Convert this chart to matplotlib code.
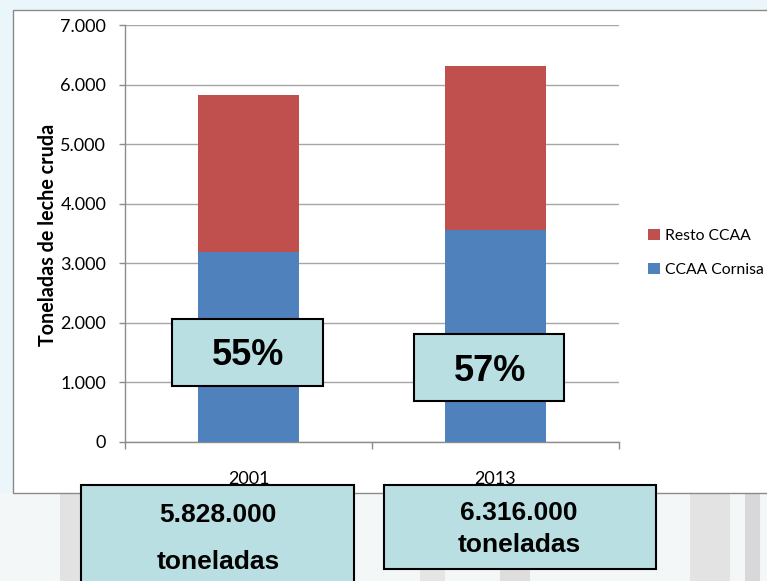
import matplotlib
matplotlib.use("Agg")
import matplotlib.pyplot as plt
from matplotlib.patches import Rectangle, Patch
from matplotlib.ticker import FixedLocator, FuncFormatter

# ---- data ----
years = ["2001", "2013"]
cornisa = [3190, 3560]          # CCAA Cornisa
totals = [5828, 6316]           # total (thousand tonnes)
resto = [t - c for t, c in zip(totals, cornisa)]  # Resto CCAA
pct_labels = ["55%", "57%"]
total_labels = ["5.828.000", "6.316.000"]
yticks = [0, 1000, 2000, 3000, 4000, 5000, 6000, 7000]

RED = "#C0504D"
BLUE = "#4F81BD"
BOXFILL = "#B9DFE3"

W, H = 767, 581
fig = plt.figure(figsize=(W / 100, H / 100), dpi=100)
fig.patch.set_facecolor("#f4f7f8")


def fx(x):
    return x / W


def fy(y):
    return 1 - y / H


# light background decorations (stripes at bottom)
for x0, w, c in [(60, 40, "#e2e2e2"), (150, 30, "#e8e8e8"), (420, 25, "#e5e5e5"),
                 (500, 30, "#dedede"), (690, 40, "#e3e3e3"), (745, 15, "#d8d8d8")]:
    fig.add_artist(Rectangle((fx(x0), 0), fx(w), fy(493), transform=fig.transFigure,
                             facecolor=c, edgecolor="none", zorder=-3))
fig.add_artist(Rectangle((0, fy(493)), 1, fy(0) - fy(493), transform=fig.transFigure,
                         facecolor="#eaf6fa", edgecolor="none", zorder=-3))

# chart area
fig.add_artist(Rectangle((fx(13), fy(493)), 1.0, fy(10) - fy(493), transform=fig.transFigure,
                         facecolor="white", edgecolor="#8a8a8a", lw=1.0, zorder=-1))

ax = fig.add_axes([fx(125), fy(441.7), fx(619) - fx(125), fy(25) - fy(441.7)])
ax.set_facecolor("none")

x = list(range(len(years)))
ax.bar(x, cornisa, width=0.41, color=BLUE, zorder=3)
ax.bar(x, resto, width=0.41, bottom=cornisa, color=RED, zorder=3)

ax.set_xlim(-0.5, 1.5)
ax.set_ylim(0, 7000)
ax.yaxis.set_major_locator(FixedLocator(yticks))
ax.yaxis.set_major_formatter(FuncFormatter(lambda v, p: f"{int(v):,}".replace(",", ".")))
ax.grid(axis="y", color="#a6a6a6", lw=1.0, zorder=0)
ax.set_axisbelow(True)

for s in ["top", "right"]:
    ax.spines[s].set_visible(False)
for s in ["left", "bottom"]:
    ax.spines[s].set_color("#8c8c8c")
    ax.spines[s].set_linewidth(1.0)

ax.set_xticks(x)
ax.set_xticklabels(years)
ax.set_xticks([-0.5, 0.5, 1.5], minor=True)
ax.tick_params(axis="x", which="major", length=0, pad=21, labelsize=13)
ax.tick_params(axis="x", which="minor", length=5, color="#8c8c8c", width=1.0)
ax.tick_params(axis="y", length=4.5, color="#8c8c8c", width=1.0, pad=9, labelsize=13)
for lab in ax.get_xticklabels() + ax.get_yticklabels():
    lab.set_fontfamily(["Lato", "DejaVu Sans"])

fig.text(fx(48), fy(235), "Toneladas de leche cruda", rotation=90, ha="center", va="center",
         fontsize=14.2, fontweight="bold", family=["Lato", "DejaVu Sans"])

# legend
handles = [Patch(facecolor=RED, edgecolor="none", label="Resto CCAA"),
           Patch(facecolor=BLUE, edgecolor="none", label="CCAA Cornisa")]
fig.legend(handles=handles, loc="center left", bbox_to_anchor=(fx(648), fy(253)),
           frameon=False, handlelength=0.75, handleheight=0.75,
           handletextpad=0.35, labelspacing=1.25, borderpad=0, borderaxespad=0,
           prop={"family": ["Lato", "DejaVu Sans"], "size": 11.3})

# percentage boxes
pct_boxes = [(172, 319, 323, 386, 248, 365), (414, 334, 564, 401, 490, 381)]
for (x0, y0, x1, y1, tx, ty), lab in zip(pct_boxes, pct_labels):
    fig.add_artist(Rectangle((fx(x0), fy(y1)), fx(x1 - x0), fy(y0) - fy(y1),
                             transform=fig.transFigure, facecolor=BOXFILL,
                             edgecolor="black", lw=1.5, zorder=5))
    fig.text(fx(tx), fy(ty), lab, ha="center", va="baseline", fontsize=26,
             fontweight="bold", family=["Liberation Sans", "DejaVu Sans"], zorder=6)

# total boxes
tot_boxes = [(81, 485, 354, 600, 218, 521.5, 569), (384, 485, 656, 569, 519, 520.5, 552.5)]
for (x0, y0, x1, y1, tx, ty1, ty2), lab in zip(tot_boxes, total_labels):
    fig.add_artist(Rectangle((fx(x0), fy(y1)), fx(x1 - x0), fy(y0) - fy(y1),
                             transform=fig.transFigure, facecolor=BOXFILL,
                             edgecolor="black", lw=1.5, zorder=5, clip_on=False))
    fig.text(fx(tx), fy(ty1), lab, ha="center", va="baseline", fontsize=19,
             fontweight="bold", family=["Liberation Sans", "DejaVu Sans"], zorder=6)
    fig.text(fx(tx), fy(ty2), "toneladas", ha="center", va="baseline", fontsize=19,
             fontweight="bold", family=["Liberation Sans", "DejaVu Sans"], zorder=6)

fig.savefig("out.png", dpi=100, facecolor=fig.get_facecolor())
